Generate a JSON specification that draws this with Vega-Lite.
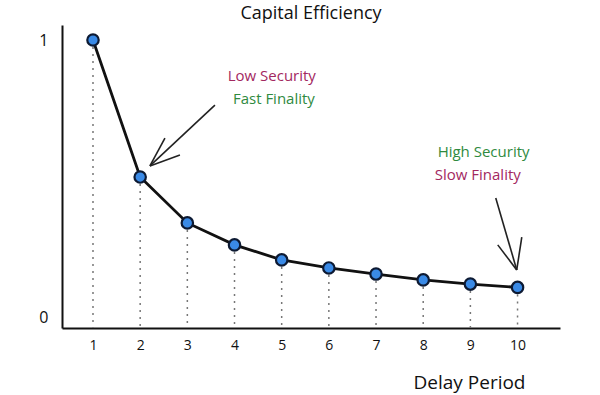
{
  "$schema": "https://vega.github.io/schema/vega-lite/v6.json",
  "width": 498,
  "height": 303,
  "autosize": "none",
  "padding": {"left": 62, "top": 25, "right": 40, "bottom": 67},
  "background": "white",
  "config": {"view": {"stroke": null}, "font": "Open Sans"},
  "title": {"text": "Capital Efficiency", "fontSize": 18, "fontWeight": "normal", "color": "#111", "anchor": "middle", "offset": 2, "font": "Open Sans"},
  "datasets": {
    "pts": [
      {"delay": 1, "eff": 1.0},
      {"delay": 2, "eff": 0.507},
      {"delay": 3, "eff": 0.342},
      {"delay": 4, "eff": 0.263},
      {"delay": 5, "eff": 0.209},
      {"delay": 6, "eff": 0.18},
      {"delay": 7, "eff": 0.158},
      {"delay": 8, "eff": 0.137},
      {"delay": 9, "eff": 0.122},
      {"delay": 10, "eff": 0.11}
    ],
    "notes": [
      {"x": 4.79, "y": 0.871, "label": "Low Security", "kind": "red"},
      {"x": 4.835, "y": 0.788, "label": "Fast Finality", "kind": "green"},
      {"x": 9.28, "y": 0.597, "label": "High Security", "kind": "green"},
      {"x": 9.157, "y": 0.514, "label": "Slow Finality", "kind": "red"}
    ],
    "arrows": [
      {"x": 3.585, "y": 0.766, "x2": 2.207, "y2": 0.547},
      {"x": 2.525, "y": 0.647, "x2": 2.207, "y2": 0.547},
      {"x": 2.843, "y": 0.586, "x2": 2.207, "y2": 0.547},
      {"x": 9.538, "y": 0.432, "x2": 9.983, "y2": 0.173},
      {"x": 9.58, "y": 0.263, "x2": 9.983, "y2": 0.173},
      {"x": 10.09, "y": 0.291, "x2": 9.983, "y2": 0.173}
    ]
  },
  "layer": [
    {
      "data": {"name": "pts"},
      "mark": {"type": "rule", "strokeDash": [2, 5], "color": "#777", "strokeWidth": 1.5},
      "encoding": {
        "x": {"field": "delay", "type": "quantitative", "scale": {"domain": [0.343, 10.9], "nice": false, "zero": false},
          "axis": {"values": [1,2,3,4,5,6,7,8,9,10], "grid": false, "ticks": false, "domainColor": "#111", "domainWidth": 2, "labelFontSize": 14, "labelColor": "#111", "labelPadding": 10,
            "title": "Delay Period", "titleFontSize": 19, "titleFontWeight": "normal", "titleColor": "#111", "titleAnchor": null, "titleAlign": "right", "titleX": 463, "titleY": 60, "titleBaseline": "alphabetic"}},
        "y": {"field": "eff", "type": "quantitative", "scale": {"domain": [-0.036, 1.054], "nice": false, "zero": false},
          "axis": {"values": [0, 1], "format": "d", "grid": false, "ticks": false, "domainColor": "#111", "domainWidth": 2, "labelFontSize": 16, "labelColor": "#111", "labelPadding": 14, "title": null}},
        "y2": {"datum": -0.036}
      }
    },
    {
      "mark": {"type": "rule", "strokeDash": [2, 5], "color": "#777", "strokeWidth": 1.5},
      "encoding": {"y": {"datum": 1, "type": "quantitative"}}
    },
    {
      "data": {"name": "pts"},
      "mark": {"type": "line", "color": "#111", "strokeWidth": 2.8},
      "encoding": {
        "x": {"field": "delay", "type": "quantitative"},
        "y": {"field": "eff", "type": "quantitative"}
      }
    },
    {
      "data": {"name": "pts"},
      "mark": {"type": "point", "filled": true, "fill": "#3a8ae6", "stroke": "#0d1a33", "strokeWidth": 2.2, "size": 130, "opacity": 1},
      "encoding": {
        "x": {"field": "delay", "type": "quantitative"},
        "y": {"field": "eff", "type": "quantitative"}
      }
    },
    {
      "data": {"name": "arrows"},
      "mark": {"type": "rule", "color": "#222", "strokeWidth": 1.6},
      "encoding": {
        "x": {"field": "x", "type": "quantitative"},
        "y": {"field": "y", "type": "quantitative"},
        "x2": {"field": "x2"},
        "y2": {"field": "y2"}
      }
    },
    {
      "data": {"name": "notes"},
      "mark": {"type": "text", "fontSize": 15, "align": "center", "baseline": "middle"},
      "encoding": {
        "x": {"field": "x", "type": "quantitative"},
        "y": {"field": "y", "type": "quantitative"},
        "text": {"field": "label"},
        "color": {"field": "kind", "type": "nominal", "scale": {"domain": ["red", "green"], "range": ["#a3285f", "#2f8a3e"]}, "legend": null}
      }
    }
  ]
}
